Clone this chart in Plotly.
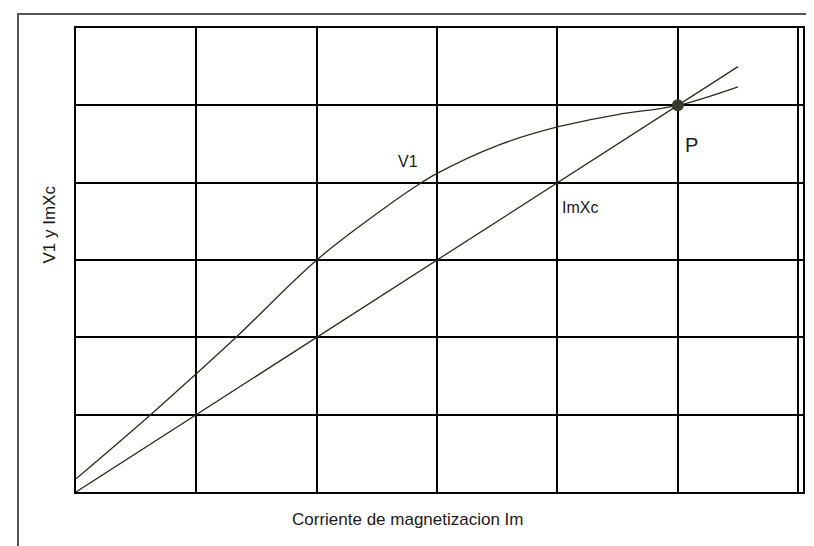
import plotly.graph_objects as go

# Data (in grid-cell units)
imxc_x = [0, 1, 2, 3, 4, 5, 5.5]
imxc_y = [0, 1, 2, 3, 4, 5, 5.5]

v1_x = [0, 0.62, 1.0, 1.33, 2.0, 2.5, 2.83, 3.0, 3.5, 4.0, 4.5, 5.0, 5.5]
v1_y = [0.17, 1.0, 1.53, 2.0, 3.0, 3.6, 3.96, 4.12, 4.48, 4.72, 4.88, 5.0, 5.24]

p_x = [5.0]
p_y = [5.0]

x_title = "Corriente de magnetizacion Im"
y_title = "V1 y ImXc"

FONT = "Liberation Sans, Arial, sans-serif"
LINE_COLOR = "#2b2b22"

fig = go.Figure()
fig.add_trace(go.Scatter(x=imxc_x, y=imxc_y, mode="lines",
                         line=dict(color=LINE_COLOR, width=1.3), hoverinfo="skip"))
fig.add_trace(go.Scatter(x=v1_x, y=v1_y, mode="lines",
                         line=dict(color=LINE_COLOR, width=1.3, shape="spline", smoothing=1.0),
                         hoverinfo="skip"))
fig.add_trace(go.Scatter(x=p_x, y=p_y, mode="markers",
                         marker=dict(color="#3a3a2c", size=12, line=dict(width=0)),
                         hoverinfo="skip"))

W, H = 814, 546
L, R, T, B = 68, 19, 20, 62
pw, ph = W - L - R, H - T - B

def px(xp):
    return (xp - L) / pw

def py(yp):
    return (H - B - yp) / ph

fig.update_layout(
    width=W, height=H,
    margin=dict(l=L, r=R, t=T, b=B),
    paper_bgcolor="white", plot_bgcolor="white",
    showlegend=False,
    font=dict(family=FONT, color="#1a1a1a", size=16),
    xaxis=dict(range=[0, 6.04], dtick=1, tick0=0, showgrid=True, gridcolor="black",
               gridwidth=2, zeroline=False, showticklabels=False, ticks="",
               showline=True, linecolor="black", linewidth=2, mirror=True, fixedrange=True),
    yaxis=dict(range=[0, 6], dtick=1, tick0=0, showgrid=True, gridcolor="black",
               gridwidth=2, zeroline=False, showticklabels=False, ticks="",
               showline=True, linecolor="black", linewidth=2, mirror=True, fixedrange=True),
    shapes=[dict(type="rect", xref="paper", yref="paper",
                 x0=px(10), x1=px(830), y0=py(560), y1=py(6),
                 line=dict(color="#555", width=2), layer="below")],
    annotations=[
        dict(text=x_title, xref="paper", yref="paper", x=px(400), y=py(523),
             showarrow=False, font=dict(size=17)),
        dict(text=y_title, xref="paper", yref="paper", x=px(30), y=py(217),
             showarrow=False, textangle=-90, font=dict(size=17)),
        dict(text="V1", xref="paper", yref="paper", x=px(400), y=py(143),
             showarrow=False, font=dict(size=16)),
        dict(text="ImXc", xref="paper", yref="paper", x=px(592), y=py(199),
             showarrow=False, font=dict(size=16)),
        dict(text="P", xref="paper", yref="paper", x=px(692), y=py(124),
             showarrow=False, font=dict(size=20)),
    ],
)

fig.write_html("out.html")
